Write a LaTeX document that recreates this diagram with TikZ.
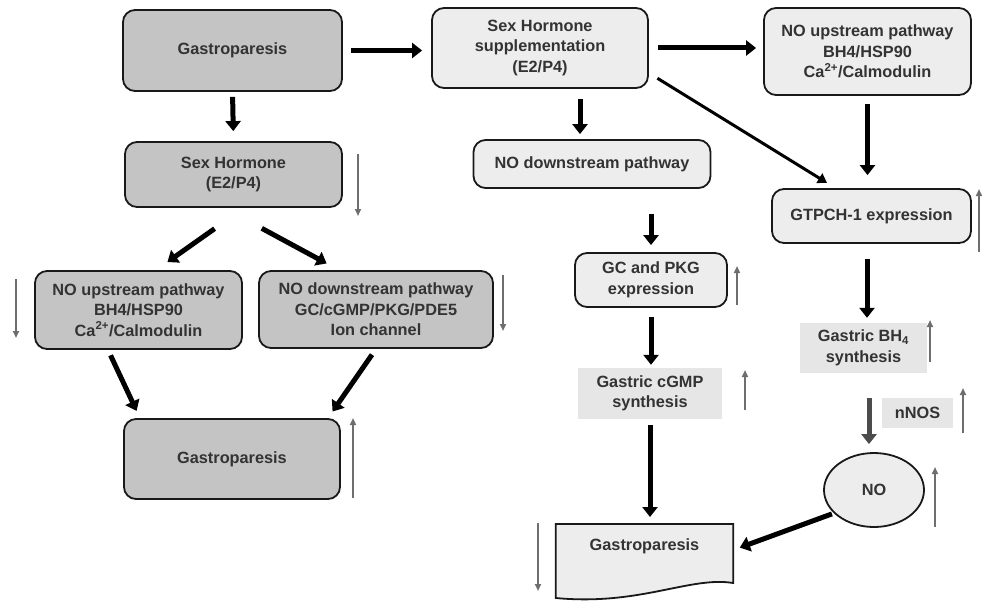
\documentclass[tikz,border=0pt]{standalone}
\usepackage{fontspec}
\setmainfont{Liberation Sans}
\usetikzlibrary{arrows.meta,shapes.geometric}
\definecolor{dk}{HTML}{C4C4C4}
\definecolor{lt}{HTML}{EDEDED}
\definecolor{nb}{HTML}{E6E6E6}
\definecolor{txt}{HTML}{333333}
\definecolor{indc}{HTML}{6E6E6E}
\begin{document}
\begin{tikzpicture}[x=1pt,y=-1pt,
  lbl/.style={align=center, font=\fontsize{16.3}{20.5}\selectfont\bfseries, text=txt, inner sep=0pt},
  box/.style={lbl, draw=black!90, line width=1.8pt, rounded corners=12pt},
  dkbox/.style={box, fill=dk},
  ltbox/.style={box, fill=lt},
  nbbox/.style={lbl, fill=nb},
  big/.style={-{Triangle[width=15pt,length=10pt]}, line width=5pt, draw=black},
  slim/.style={-{Triangle[width=11pt,length=9pt]}, line width=3pt, draw=black},
  indi/.style={-{Triangle[width=6pt,length=7pt]}, line width=1.8pt, draw=indc},
]
\useasboundingbox (0,0) rectangle (982,602);

% left column
\node[dkbox, minimum width=219pt, minimum height=81pt] (G1) at (232.5,50.5) {Gastroparesis};
\node[dkbox, minimum width=217pt, minimum height=65pt] (SH) at (233.5,174.5) {Sex Hormone\\(E2/P4)};
\node[dkbox, minimum width=207pt, minimum height=78pt] (NOupL) at (138.5,310) {NO upstream pathway\\BH4/HSP90\\Ca\textsuperscript{2+}/Calmodulin};
\node[dkbox, minimum width=234pt, minimum height=77pt] (NOdnL) at (376,309.5) {NO downstream pathway\\GC/cGMP/PKG/PDE5\\Ion channel};
\node[dkbox, minimum width=216pt, minimum height=80pt] (G2) at (232,459) {Gastroparesis};

% middle column
\node[ltbox, minimum width=216pt, minimum height=80pt] (Supp) at (540,48) {Sex Hormone\\supplementation\\(E2/P4)};
\node[ltbox, minimum width=237pt, minimum height=48pt] (NOdn) at (592,164) {NO downstream pathway};
\node[ltbox, minimum width=152pt, minimum height=54pt] (GC) at (651,280) {GC and PKG\\expression};
\node[nbbox, minimum width=144pt, minimum height=51pt] (cGMP) at (650,393.5) {Gastric cGMP\\synthesis};
\node[minimum width=177pt, minimum height=60pt, inner sep=0pt, anchor=north] (Doc) at (644.5,524) {};
\draw[line width=1.8pt, draw=black!90, fill=lt]
  (Doc.north west) -- (Doc.north east) -- ([yshift=-59pt]Doc.north east)
  .. controls (690,576) and (640,606) .. ([yshift=-74pt]Doc.north west) -- cycle;
\node[lbl] (DocT) at (644.5,546) {Gastroparesis};

% right column
\node[ltbox, minimum width=207pt, minimum height=87pt] (NOupR) at (867.5,51.5) {NO upstream pathway\\BH4/HSP90\\Ca\textsuperscript{2+}/Calmodulin};
\node[ltbox, minimum width=199pt, minimum height=54pt] (GTP) at (871.5,216) {GTPCH-1 expression};
\node[nbbox, minimum width=127pt, minimum height=50pt] (BH4) at (863.5,348) {Gastric BH\textsubscript{4}\\synthesis};
\node[nbbox, minimum width=71pt, minimum height=30pt] (nNOS) at (917.5,413) {nNOS};
\node[lbl, ellipse, draw=black!90, line width=1.8pt, fill=lt, minimum width=100pt, minimum height=74pt] (NO) at (874,490) {NO};

% main connectors
\draw[big, shorten <=5pt, shorten >=10pt] (G1.south) -- (SH.north);
\draw[big, shorten <=8pt, shorten >=9pt] (G1.east) -- (G1.east -| Supp.west);
\draw[big, shorten <=9pt, shorten >=7pt] (Supp.east) -- (NOupR.west |- Supp.east);
\draw[big, shorten <=10pt, shorten >=5pt] ([xshift=40pt]Supp.south) -- ([xshift=-12pt]NOdn.north);
\draw[slim, shorten <=10pt, shorten >=10pt] ([yshift=-25pt]Supp.east) -- ([xshift=-36pt]GTP.north);
\draw[big, shorten <=8pt, shorten >=13pt] (NOupR.south) -- (NOupR.south |- GTP.north);
\draw[big, shorten <=36pt, shorten >=14pt] ([xshift=10.5pt]SH.south) -- ([xshift=17.5pt]NOupL.north);
\draw[big, shorten <=43pt, shorten >=14pt] ([xshift=-9.5pt]SH.south) -- ([xshift=-37pt]NOdnL.north);
\draw[big, shorten <=6pt, shorten >=8pt] ([xshift=-30.5pt]NOupL.south) -- ([xshift=-92pt]G2.north);
\draw[big, shorten <=7pt, shorten >=8pt] (NOdnL.south) -- ([xshift=96pt]G2.north);
\draw[big, shorten <=25pt, shorten >=7pt] (NOdn.south -| GC.north) -- (GC.north);
\draw[big, shorten <=9pt, shorten >=3pt] (GC.south) -- (GC.south |- cGMP.north);
\draw[big, shorten <=6pt, shorten >=7pt] (cGMP.south) -- (cGMP.south |- Doc.north);
\draw[big, shorten <=15pt, shorten >=5pt] ([xshift=-4.5pt]GTP.south) -- ([xshift=3.5pt]BH4.north);
\draw[big, draw=black!70, shorten <=25pt, shorten >=8pt] ([xshift=5.5pt]BH4.south) -- ([xshift=-5pt]NO.north);
\draw[big, shorten <=2pt, shorten >=7pt] (NO.210) -- ([yshift=-26pt]Doc.north east);

% indicator arrows
\coordinate (a1) at (358,154); \coordinate (b1) at (358,216);
\coordinate (a2) at (16,279);  \coordinate (b2) at (16,338);
\coordinate (a3) at (503,275); \coordinate (b3) at (503,331);
\coordinate (a4) at (353,498); \coordinate (b4) at (353,418);
\coordinate (a5) at (979,252); \coordinate (b5) at (979,189);
\coordinate (a6) at (737,305); \coordinate (b6) at (737,266);
\coordinate (a7) at (745,410); \coordinate (b7) at (745,370);
\coordinate (a8) at (930,362); \coordinate (b8) at (930,320);
\coordinate (a9) at (963,433); \coordinate (b9) at (963,388);
\coordinate (a10) at (935,527); \coordinate (b10) at (935,467);
\coordinate (a11) at (538,523); \coordinate (b11) at (538,591);
\foreach \i in {1,...,11} \draw[indi] (a\i) -- (b\i);
\end{tikzpicture}
\end{document}
